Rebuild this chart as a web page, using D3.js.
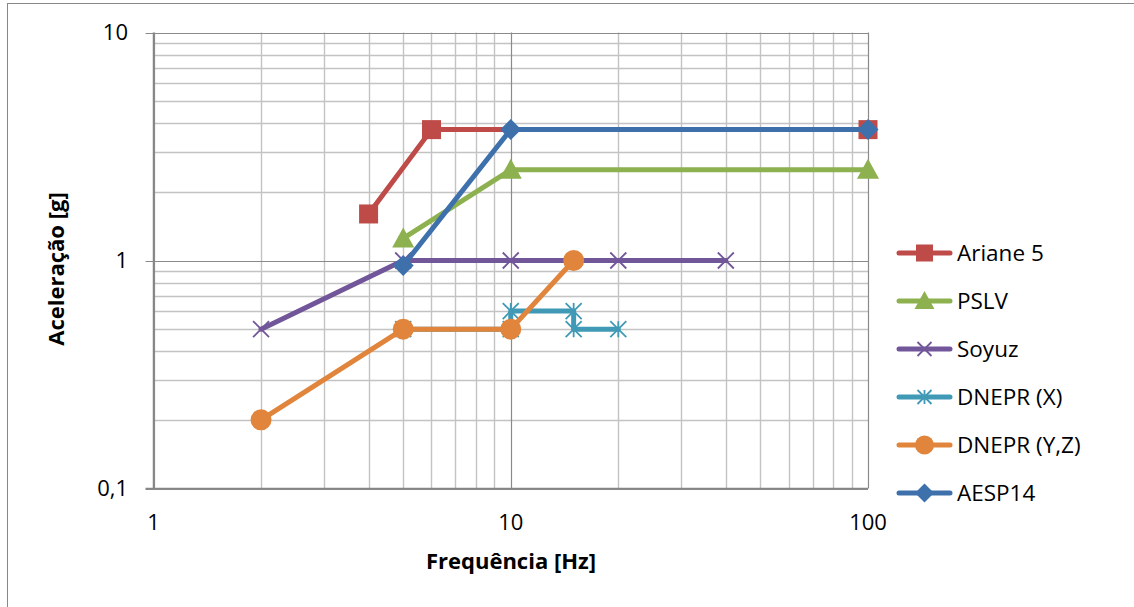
<!DOCTYPE html>
<html><head><meta charset="utf-8">
<script src="https://cdn.jsdelivr.net/npm/d3@7"></script>
<style>html,body{margin:0;padding:0;background:#fff;}svg{display:block;font-family:"Open Sans",Lato,sans-serif;}</style>
</head><body>
<svg id="c" width="1134" height="607"></svg>
<script>
const seriesNames = ["Ariane 5","PSLV","Soyuz","DNEPR (X)","DNEPR (Y,Z)","AESP14"];
const seriesColors = ["#BE4B48","#8DB14F","#72569A","#4099B5","#E0853B","#3E70AC"];
const seriesMarkers = ["square","triangle","x","asterisk","circle","diamond"];
const arianeX = [4,6,100],            arianeY = [1.6,3.75,3.75];
const pslvX = [5,10,100],             pslvY = [1.25,2.5,2.5];
const soyuzX = [2,5,10,20,40],        soyuzY = [0.5,1,1,1,1];
const dneprXX = [5,10,10,15,15,20],   dneprXY = [0.5,0.5,0.6,0.6,0.5,0.5];
const dneprYZX = [2,5,10,15],         dneprYZY = [0.2,0.5,0.5,1];
const aespX = [5,10,100],             aespY = [0.95,3.75,3.75];
const xTicks = [1,10,100], xTickLabels = ["1","10","100"];
const yTicks = [0.1,1,10], yTickLabels = ["0,1","1","10"];
const xTitle = "Frequência [Hz]", yTitle = "Aceleração [g]";

const allX = [arianeX,pslvX,soyuzX,dneprXX,dneprYZX,aespX];
const allY = [arianeY,pslvY,soyuzY,dneprXY,dneprYZY,aespY];

const svg = d3.select("#c");
const L = 153.5, R = 868, T = 32.5, B = 488.5;
const x = d3.scaleLog().domain([1,100]).range([L,R]);
const y = d3.scaleLog().domain([0.1,10]).range([B,T]);

// outer border
svg.append("rect").attr("x",7.5).attr("y",3.5).attr("width",1140).attr("height",620)
  .attr("fill","none").attr("stroke","#888").attr("stroke-width",1);

// minor grid
const minor = v => { const e = Math.log10(v); return Math.abs(e - Math.round(e)) > 1e-9; };
const xMinor = x.ticks(20).filter(minor);
const yMinor = y.ticks(20).filter(minor);
const g = svg.append("g");
g.selectAll(".xm").data(xMinor).enter().append("line")
  .attr("x1",d=>Math.round(x(d))+0.5).attr("x2",d=>Math.round(x(d))+0.5).attr("y1",T).attr("y2",B)
  .attr("stroke","#c3c3c3").attr("stroke-width",1.4);
g.selectAll(".ym").data(yMinor).enter().append("line")
  .attr("y1",d=>Math.round(y(d))+0.5).attr("y2",d=>Math.round(y(d))+0.5).attr("x1",L).attr("x2",R)
  .attr("stroke","#c3c3c3").attr("stroke-width",1.4);
// major grid
g.selectAll(".xM").data(xTicks).enter().append("line")
  .attr("x1",d=>Math.round(x(d))+0.5).attr("x2",d=>Math.round(x(d))+0.5).attr("y1",T).attr("y2",B)
  .attr("stroke","#8a8a8a").attr("stroke-width",1.2);
g.selectAll(".yM").data(yTicks).enter().append("line")
  .attr("y1",d=>Math.round(y(d))+0.5).attr("y2",d=>Math.round(y(d))+0.5).attr("x1",L-8).attr("x2",R)
  .attr("stroke","#8a8a8a").attr("stroke-width",1.2);

// axes lines
svg.append("line").attr("x1",L).attr("x2",L).attr("y1",T).attr("y2",B).attr("stroke","#868686").attr("stroke-width",1.5);
svg.append("line").attr("x1",L-8).attr("x2",R).attr("y1",B).attr("y2",B).attr("stroke","#868686").attr("stroke-width",1.5);

// tick labels
svg.selectAll(".yl").data(yTicks).enter().append("text")
  .attr("x",128).attr("y",d=>y(d)).attr("dy","0.35em").attr("text-anchor","end")
  .attr("font-size",22).attr("fill","#000").text((d,i)=>yTickLabels[i]);
svg.selectAll(".xl").data(xTicks).enter().append("text")
  .attr("x",d=>x(d)).attr("y",530).attr("text-anchor","middle")
  .attr("font-size",22).attr("fill","#000").text((d,i)=>xTickLabels[i]);

svg.append("text").attr("x",511).attr("y",569).attr("text-anchor","middle")
  .attr("font-size",22).attr("font-weight","bold").text(xTitle);
svg.append("text").attr("transform","translate(64,269) rotate(-90)").attr("text-anchor","middle")
  .attr("font-size",22).attr("font-weight","bold").text(yTitle);

function marker(sel, type, color, s){
  if(type==="square"){
    sel.append("rect").attr("x",-s/2).attr("y",-s/2).attr("width",s).attr("height",s).attr("fill",color);
  } else if(type==="triangle"){
    const h=s*0.95, w=s*1.05;
    sel.append("path").attr("d",`M0,${-h*0.55}L${w/2},${h*0.45}L${-w/2},${h*0.45}Z`).attr("fill",color);
  } else if(type==="circle"){
    sel.append("circle").attr("r",s/2).attr("fill",color);
  } else if(type==="diamond"){
    sel.append("path").attr("d",`M0,${-s/2}L${s/2},0L0,${s/2}L${-s/2},0Z`).attr("fill",color);
  } else if(type==="x"||type==="asterisk"){
    const a=s/2;
    let d=`M${-a},${-a}L${a},${a}M${-a},${a}L${a},${-a}`;
    if(type==="asterisk") d+=`M0,${-a}L0,${a}`;
    sel.append("path").attr("d",d).attr("stroke",color).attr("stroke-width",1.8).attr("fill","none");
  }
}
const markerSize = {square:19,triangle:21,circle:21,diamond:21,x:16,asterisk:16};

const line = d3.line().x(d=>x(d[0])).y(d=>y(d[1]));
seriesNames.forEach((name,i)=>{
  const pts = allX[i].map((v,j)=>[v,allY[i][j]]);
  const sg = svg.append("g");
  sg.append("path").attr("d",line(pts)).attr("fill","none").attr("stroke",seriesColors[i])
    .attr("stroke-width",5).attr("stroke-linejoin","round").attr("stroke-linecap","round");
  pts.forEach(p=>{
    const mg = sg.append("g").attr("transform",`translate(${x(p[0])},${y(p[1])})`);
    marker(mg, seriesMarkers[i], seriesColors[i], markerSize[seriesMarkers[i]]);
  });
});

// legend
const lg = svg.append("g");
seriesNames.forEach((name,i)=>{
  const cy = 253 + i*48;
  const row = lg.append("g").attr("transform",`translate(0,${cy})`);
  row.append("line").attr("x1",899).attr("x2",950).attr("y1",0).attr("y2",0)
    .attr("stroke",seriesColors[i]).attr("stroke-width",5).attr("stroke-linecap","round");
  const mg = row.append("g").attr("transform","translate(924.5,0)");
  marker(mg, seriesMarkers[i], seriesColors[i], markerSize[seriesMarkers[i]]-2);
  row.append("text").attr("x",957).attr("y",0).attr("dy","0.35em").attr("font-size",22.5).text(name);
});
</script>
</body></html>
